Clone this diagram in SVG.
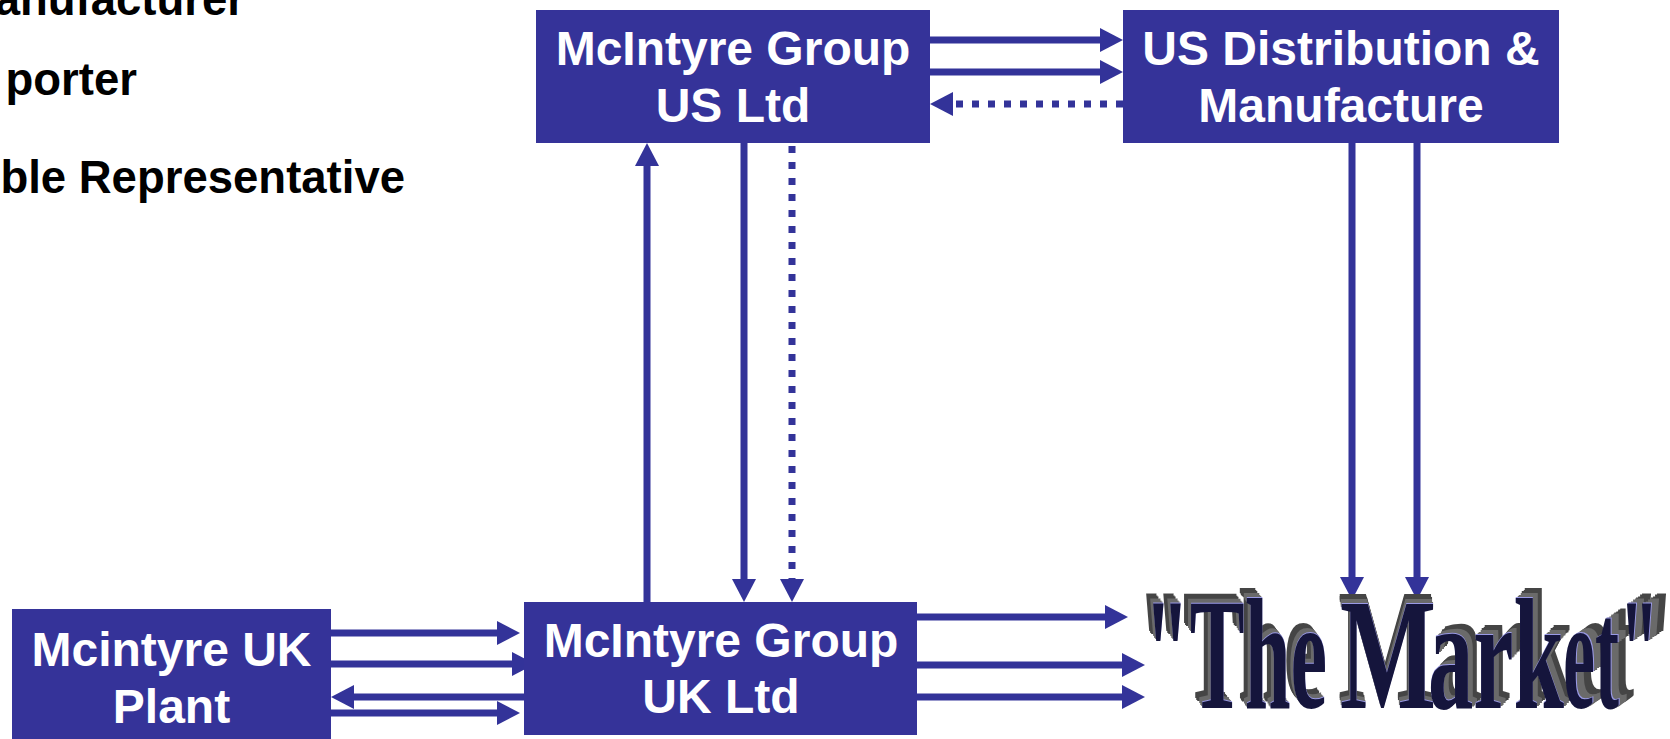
<svg xmlns="http://www.w3.org/2000/svg" width="1670" height="739" viewBox="0 0 1670 739">
<defs>
<marker id="ah" markerUnits="userSpaceOnUse" markerWidth="23" markerHeight="24" refX="0" refY="12" orient="auto" overflow="visible">
<path d="M0,0 L23,12 L0,24 z" fill="#333399"/>
</marker>
<filter id="exA" x="-20%" y="-30%" width="140%" height="160%" color-interpolation-filters="sRGB">
<feOffset in="SourceAlpha" dx="-7" dy="-10" result="o6"/>
<feOffset in="SourceAlpha" dx="-5.8" dy="-8.3" result="o5"/>
<feOffset in="SourceAlpha" dx="-4.7" dy="-6.7" result="o4"/>
<feOffset in="SourceAlpha" dx="-3.5" dy="-5" result="o3"/>
<feOffset in="SourceAlpha" dx="-2.3" dy="-3.3" result="o2"/>
<feOffset in="SourceAlpha" dx="-1.2" dy="-1.7" result="o1"/>
<feOffset in="SourceAlpha" dx="-0.3" dy="-1.5" result="h"/>
<feMerge result="back"><feMergeNode in="o6"/><feMergeNode in="o5"/><feMergeNode in="o4"/></feMerge>
<feMerge result="near"><feMergeNode in="o3"/><feMergeNode in="o2"/><feMergeNode in="o1"/></feMerge>
<feFlood flood-color="#454545"/><feComposite in2="back" operator="in" result="bk"/>
<feFlood flood-color="#6a6a6a"/><feComposite in2="near" operator="in" result="nr"/>
<feFlood flood-color="#9a9ae6"/><feComposite in2="h" operator="in" result="hl"/>
<feMerge><feMergeNode in="bk"/><feMergeNode in="nr"/><feMergeNode in="hl"/><feMergeNode in="SourceGraphic"/></feMerge>
</filter>
<filter id="exB" x="-20%" y="-30%" width="140%" height="160%" color-interpolation-filters="sRGB">
<feOffset in="SourceAlpha" dx="-2" dy="-10" result="o6"/>
<feOffset in="SourceAlpha" dx="-1.7" dy="-8.3" result="o5"/>
<feOffset in="SourceAlpha" dx="-1.3" dy="-6.7" result="o4"/>
<feOffset in="SourceAlpha" dx="-1" dy="-5" result="o3"/>
<feOffset in="SourceAlpha" dx="-0.7" dy="-3.3" result="o2"/>
<feOffset in="SourceAlpha" dx="-0.3" dy="-1.7" result="o1"/>
<feOffset in="SourceAlpha" dx="0" dy="-1.5" result="h"/>
<feMerge result="back"><feMergeNode in="o6"/><feMergeNode in="o5"/><feMergeNode in="o4"/></feMerge>
<feMerge result="near"><feMergeNode in="o3"/><feMergeNode in="o2"/><feMergeNode in="o1"/></feMerge>
<feFlood flood-color="#454545"/><feComposite in2="back" operator="in" result="bk"/>
<feFlood flood-color="#6a6a6a"/><feComposite in2="near" operator="in" result="nr"/>
<feFlood flood-color="#9a9ae6"/><feComposite in2="h" operator="in" result="hl"/>
<feMerge><feMergeNode in="bk"/><feMergeNode in="nr"/><feMergeNode in="hl"/><feMergeNode in="SourceGraphic"/></feMerge>
</filter>
<filter id="exC" x="-20%" y="-30%" width="140%" height="160%" color-interpolation-filters="sRGB">
<feOffset in="SourceAlpha" dx="9" dy="-10" result="o6"/>
<feOffset in="SourceAlpha" dx="7.5" dy="-8.3" result="o5"/>
<feOffset in="SourceAlpha" dx="6" dy="-6.7" result="o4"/>
<feOffset in="SourceAlpha" dx="4.5" dy="-5" result="o3"/>
<feOffset in="SourceAlpha" dx="3" dy="-3.3" result="o2"/>
<feOffset in="SourceAlpha" dx="1.5" dy="-1.7" result="o1"/>
<feOffset in="SourceAlpha" dx="0.4" dy="-1.5" result="h"/>
<feMerge result="back"><feMergeNode in="o6"/><feMergeNode in="o5"/><feMergeNode in="o4"/></feMerge>
<feMerge result="near"><feMergeNode in="o3"/><feMergeNode in="o2"/><feMergeNode in="o1"/></feMerge>
<feFlood flood-color="#454545"/><feComposite in2="back" operator="in" result="bk"/>
<feFlood flood-color="#6a6a6a"/><feComposite in2="near" operator="in" result="nr"/>
<feFlood flood-color="#9a9ae6"/><feComposite in2="h" operator="in" result="hl"/>
<feMerge><feMergeNode in="bk"/><feMergeNode in="nr"/><feMergeNode in="hl"/><feMergeNode in="SourceGraphic"/></feMerge>
</filter>
<filter id="exD" x="-20%" y="-30%" width="140%" height="160%" color-interpolation-filters="sRGB">
<feOffset in="SourceAlpha" dx="15" dy="-10" result="o8"/>
<feOffset in="SourceAlpha" dx="13.1" dy="-8.75" result="o7"/>
<feOffset in="SourceAlpha" dx="11.2" dy="-7.5" result="o6"/>
<feOffset in="SourceAlpha" dx="9.4" dy="-6.25" result="o5"/>
<feOffset in="SourceAlpha" dx="7.5" dy="-5" result="o4"/>
<feOffset in="SourceAlpha" dx="5.6" dy="-3.75" result="o3"/>
<feOffset in="SourceAlpha" dx="3.7" dy="-2.5" result="o2"/>
<feOffset in="SourceAlpha" dx="1.9" dy="-1.25" result="o1"/>
<feOffset in="SourceAlpha" dx="0.6" dy="-1.5" result="h"/>
<feMerge result="back"><feMergeNode in="o8"/><feMergeNode in="o7"/><feMergeNode in="o6"/><feMergeNode in="o5"/></feMerge>
<feMerge result="near"><feMergeNode in="o4"/><feMergeNode in="o3"/><feMergeNode in="o2"/><feMergeNode in="o1"/></feMerge>
<feFlood flood-color="#454545"/><feComposite in2="back" operator="in" result="bk"/>
<feFlood flood-color="#6a6a6a"/><feComposite in2="near" operator="in" result="nr"/>
<feFlood flood-color="#9a9ae6"/><feComposite in2="h" operator="in" result="hl"/>
<feMerge><feMergeNode in="bk"/><feMergeNode in="nr"/><feMergeNode in="hl"/><feMergeNode in="SourceGraphic"/></feMerge>
</filter>
<style>
.box{fill:#353399}
.lbl{font-family:"Liberation Sans",Arial,sans-serif;font-weight:bold;font-size:48px;fill:#ffffff;text-anchor:middle}
.side{font-family:"Liberation Sans",Arial,sans-serif;font-weight:bold;font-size:45.5px;fill:#000000;text-anchor:end}
.c{fill:none;stroke:#333399;stroke-width:7;marker-end:url(#ah)}
.d{stroke-dasharray:7 9}
.mk{font-family:"Liberation Serif","Times New Roman",serif;font-weight:bold;font-size:158px;fill:#15153c}
</style>
</defs>
<rect width="1670" height="739" fill="#ffffff"/>

<g id="side-text">
<text class="side" x="245" y="15">anufacturer</text>
<text class="side" x="137" y="95">porter</text>
<text class="side" x="405" y="193">ble Representative</text>
</g>

<g id="connectors">
<path class="c" d="M930,40 H1100"/>
<path class="c" d="M930,72 H1100"/>
<path class="c d" d="M1123,104 H953"/>
<path class="c" d="M647,602 V166"/>
<path class="c" d="M744,143 V579"/>
<path class="c d" d="M792,146 V579"/>
<path class="c" d="M1352,143 V577"/>
<path class="c" d="M1417,143 V577"/>
<path class="c" d="M331,633 H497"/>
<path class="c" d="M331,664 H512"/>
<path class="c" d="M524,697 H354"/>
<path class="c" d="M331,713 H497"/>
<path class="c" d="M917,617 H1105"/>
<path class="c" d="M917,665 H1122"/>
<path class="c" d="M917,697 H1122"/>
</g>

<g id="us-ltd">
<rect class="box" x="536" y="10" width="394" height="133"/>
<text class="lbl" x="733" y="65">McIntyre Group</text>
<text class="lbl" x="733" y="122">US Ltd</text>
</g>

<g id="us-dist">
<rect class="box" x="1123" y="10" width="436" height="133"/>
<text class="lbl" x="1341" y="65">US Distribution &amp;</text>
<text class="lbl" x="1341" y="122">Manufacture</text>
</g>

<g id="uk-ltd">
<rect class="box" x="524" y="602" width="393" height="133"/>
<text class="lbl" x="721" y="657">McIntyre Group</text>
<text class="lbl" x="721" y="713">UK Ltd</text>
</g>

<g id="uk-plant">
<rect class="box" x="12" y="609" width="319" height="135"/>
<text class="lbl" x="171.5" y="666">Mcintyre UK</text>
<text class="lbl" x="171.5" y="723">Plant</text>
</g>

<g id="market" class="mk">
<text x="1144" y="708" textLength="183" lengthAdjust="spacingAndGlyphs" filter="url(#exA)">"The</text>
<text x="1340" y="708" textLength="96" lengthAdjust="spacingAndGlyphs" filter="url(#exB)">M</text>
<text x="1428" y="708" textLength="136" lengthAdjust="spacingAndGlyphs" filter="url(#exC)">ark</text>
<text x="1563" y="708" textLength="96" lengthAdjust="spacingAndGlyphs" filter="url(#exD)">et"</text>
</g>
</svg>
